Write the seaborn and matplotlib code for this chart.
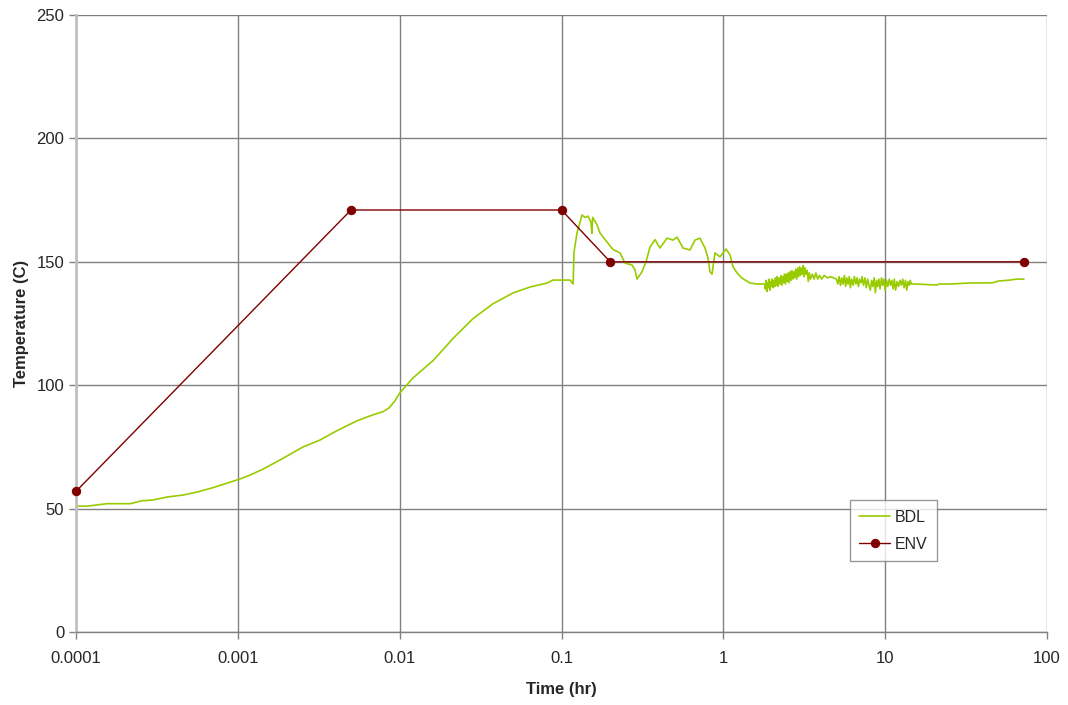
import matplotlib
matplotlib.use("Agg")
import matplotlib.pyplot as plt
import seaborn as sns
import pandas as pd

# ENV profile
env_time = [0.0001, 0.005, 0.1, 0.2, 72]
env_temp = [57, 171, 171, 150, 150]

bdl_time = [0.0001, 0.000117, 0.000155, 0.000216, 0.000256, 0.000299, 0.000365, 0.000458,
            0.000559, 0.000702, 0.000857, 0.00103, 0.00119, 0.00143, 0.00182, 0.00253,
            0.00322, 0.0041, 0.00545, 0.00684, 0.00789, 0.0086, 0.0093, 0.01, 0.0121, 0.0161,
            0.0214, 0.0284, 0.0377, 0.0502, 0.0639, 0.0814, 0.0886, 0.100, 0.113, 0.118,
            0.1195, 0.1247, 0.1339, 0.1397, 0.1458, 0.1522, 0.1540, 0.1558, 0.1658, 0.173,
            0.1911, 0.2082, 0.2299, 0.2469, 0.2728, 0.2847, 0.2929, 0.3145, 0.3329, 0.3524,
            0.3783, 0.4062, 0.4487, 0.4887, 0.5173, 0.5636, 0.6227, 0.6684, 0.7177, 0.7706,
            0.8041, 0.8275, 0.8511, 0.8883, 0.9539, 0.9954, 1.039, 1.100, 1.148, 1.215,
            1.305, 1.462, 1.62,
            1.80, 1.82, 1.84, 1.86, 1.88, 1.90, 1.92, 1.94, 1.96, 1.98, 2.00, 2.03, 2.05,
            2.08, 2.10, 2.13, 2.15, 2.18, 2.21, 2.24, 2.27, 2.30, 2.33, 2.36, 2.39, 2.42,
            2.45, 2.48, 2.51, 2.55, 2.58, 2.62, 2.65, 2.69, 2.72, 2.76, 2.80, 2.84, 2.88,
            2.92, 2.96, 3.00, 3.04, 3.08, 3.12, 3.16, 3.20, 3.25, 3.30, 3.35, 3.40, 3.46,
            3.55, 3.64, 3.73, 3.83, 3.93, 4.05, 4.2, 4.4,
            4.6, 4.8, 5.0, 5.1, 5.2, 5.3, 5.4, 5.5, 5.6, 5.7, 5.8, 5.9, 6.0, 6.1, 6.2,
            6.35, 6.45, 6.6, 6.7, 6.85, 6.95, 7.1, 7.2, 7.35, 7.5, 7.65, 7.8, 7.95,
            8.1, 8.25, 8.4, 8.55, 8.7, 8.85, 9.0, 9.15, 9.3, 9.5, 9.65, 9.8, 10.0, 10.2,
            10.4, 10.6, 10.8, 11.0, 11.2, 11.4, 11.6, 11.85, 12.1, 12.35, 12.6, 12.85,
            13.1, 13.35, 13.6, 13.85, 14.1, 14.3, 14.5,
            15.5, 18.0, 20.9, 21.5, 25.0, 33.0, 46.0, 50.0, 59.0, 65.0, 72.0]
bdl_temp = [51.0, 51.0, 52.0, 52.0, 53.2, 53.5, 54.7, 55.5,
            56.7, 58.5, 60.3, 62.0, 63.6, 66.0, 69.7, 75.0,
            77.8, 81.6, 85.6, 88.0, 89.3, 90.8, 93.5, 96.8, 103.0, 110.0,
            119.0, 127.0, 133.0, 137.4, 139.8, 141.4, 142.6, 142.6, 142.6, 141.0,
            154.0, 161.7, 169.0, 168.0, 168.5, 166.0, 161.5, 168.0, 165.0, 161.7,
            158.0, 155.0, 153.6, 149.5, 148.7, 146.7, 143.0, 146.0, 150.0, 156.0,
            159.0, 155.6, 159.6, 158.8, 160.0, 155.6, 154.8, 158.8, 159.6, 155.6,
            151.5, 145.9, 145.0, 153.6, 152.0, 153.6, 155.2, 152.8, 148.0, 145.5,
            143.4, 141.4, 141.0,
            141.0, 139.0, 142.5, 138.0, 141.5, 139.5, 143.0, 138.5, 142.0, 140.0, 143.0, 139.5, 142.5,
            140.0, 143.5, 140.5, 144.0, 140.0, 143.5, 141.0, 144.5, 140.5, 144.0, 141.5, 145.0, 141.0,
            145.0, 142.0, 145.5, 141.5, 146.0, 142.5, 146.5, 143.0, 146.0, 143.5, 147.0, 143.0, 147.5,
            144.0, 148.0, 144.5, 147.5, 145.0, 148.5, 144.0, 147.5, 145.0, 146.5, 142.0, 145.5, 143.0,
            145.0, 143.0, 145.5, 143.0, 144.5, 143.0, 144.5, 143.5,
            144.0, 143.5, 143.0, 141.0, 144.0, 140.5, 143.5, 141.0, 144.5, 140.0, 143.5, 141.0, 144.0, 139.5, 143.0,
            140.5, 144.0, 141.0, 143.5, 140.0, 143.0, 141.5, 144.0, 140.5, 143.5, 139.5, 143.0, 140.5,
            138.5, 142.5, 140.0, 143.5, 137.5, 142.5, 140.0, 143.0, 139.0, 143.5, 140.5, 143.0, 138.5, 142.5,
            140.0, 143.0, 140.5, 142.5, 139.0, 143.0, 138.5, 142.0, 140.0, 142.5, 140.5, 143.0,
            139.5, 142.5, 138.5, 142.0, 140.5, 142.5, 141.0,
            141.0, 140.8, 140.6, 141.0, 141.0, 141.4, 141.5, 142.2, 142.6, 143.0, 143.0]

xtick_vals = [0.0001, 0.001, 0.01, 0.1, 1, 10, 100]
xtick_labels = ["0.0001", "0.001", "0.01", "0.1", "1", "10", "100"]
ytick_vals = [0, 50, 100, 150, 200, 250]

bdl = pd.DataFrame({"time": bdl_time, "temp": bdl_temp})
env = pd.DataFrame({"time": env_time, "temp": env_temp})

sns.set_style("white")
plt.rcParams['font.family'] = ['Liberation Sans', 'DejaVu Sans']

fig = plt.figure(figsize=(10.68, 7.05), dpi=100)
ax = fig.add_axes([0.0712, 0.1035, 0.9091, 0.8752])

sns.lineplot(data=bdl, x="time", y="temp", ax=ax, sort=False, estimator=None,
             color="#99cc00", linewidth=1.2, label="BDL")
sns.lineplot(data=env, x="time", y="temp", ax=ax, sort=False, estimator=None,
             color="#800000", linewidth=1.0, marker="o", markersize=6,
             markeredgecolor="#800000", label="ENV", clip_on=False, zorder=5)

ax.set_xscale("log")
ax.set_xlim(0.0001, 100)
ax.set_ylim(0, 250)
ax.set_xticks(xtick_vals)
ax.set_xticklabels(xtick_labels)
ax.set_yticks(ytick_vals)
ax.minorticks_off()
ax.tick_params(axis="both", labelsize=12, length=5, width=1, color="#808080", direction="out",
               left=True, bottom=True)
ax.tick_params(axis="x", pad=9)
ax.grid(True, color="#808080", linewidth=1)
ax.set_axisbelow(True)

for s in ["top", "right"]:
    ax.spines[s].set_visible(False)
ax.spines["left"].set_color("#c0c0c0")
ax.spines["left"].set_linewidth(2)
ax.spines["bottom"].set_color("#808080")
ax.spines["bottom"].set_linewidth(1)

ax.set_xlabel("Time (hr)", fontsize=12, fontweight="bold", labelpad=11)
ax.set_ylabel("Temperature (C)", fontsize=12, fontweight="bold", labelpad=5)

leg = ax.legend(loc="upper left", bbox_to_anchor=(0.797, 0.214), fontsize=11.5,
                frameon=True, fancybox=False, handlelength=1.9, handletextpad=0.3,
                borderpad=0.6, labelspacing=0.75, borderaxespad=0)
leg.get_frame().set_edgecolor("#808080")
leg.get_frame().set_linewidth(1)

fig.savefig("out.png", dpi=100)
